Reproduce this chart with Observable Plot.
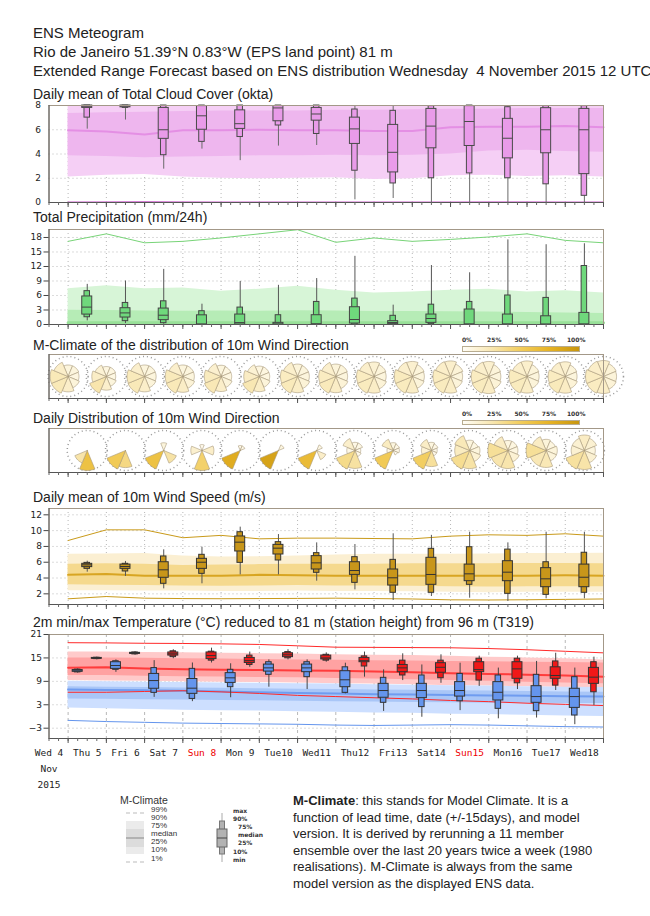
<!DOCTYPE html>
<html><head><meta charset="utf-8">
<script src="https://cdn.jsdelivr.net/npm/d3@7"></script>
<script src="https://cdn.jsdelivr.net/npm/@observablehq/plot@0.6"></script>
<style>
body{margin:0;background:#fff;}
#root{position:relative;width:650px;height:916px;overflow:hidden;font-family:"Liberation Sans",Arial,sans-serif;color:#222;}
.t{position:absolute;white-space:nowrap;}
</style></head><body><div id="root"></div><script>
// ---------- DATA ----------
const dayLabels = ["Wed 4","Thu 5","Fri 6","Sat 7","Sun 8","Mon 9","Tue10","Wed11","Thu12","Fri13","Sat14","Sun15","Mon16","Tue17","Wed18"];
const sundays = ["Sun 8","Sun15"];
const monthLabel = "Nov";
const yearLabel = "2015";

// Total cloud cover (okta), ENS quantiles Thu5..Wed18
const cloudMin = [6.05,6.8,2.75,4.4,3.45,4.65,4.7,0.22,0.33,0,0,0,0,0];
const cloudP10 = [7.0,7.8,3.9,5.0,5.4,6.35,5.65,2.62,1.57,2.0,2.4,2.0,1.5,0.55];
const cloudP25 = [7.8,7.85,5.25,6.0,6.07,6.7,6.75,4.83,2.48,4.47,4.66,3.64,4.06,2.34];
const cloudMed = [7.9,7.95,6.0,7.15,6.5,7.8,7.3,6.07,4.14,6.3,6.68,5.3,6.0,6.0];
const cloudP75 = [8.0,8.0,7.8,7.95,7.6,7.95,7.8,7.0,6.4,7.72,7.95,6.9,7.78,7.72];
const cloudP90 = [8,8,8,8,8,8,8,7.67,7.56,7.95,8,7.86,7.95,7.95];
const cloudMax = [8,8,8,8,8,8,8,7.95,8,8,8,8,8,8];
// cloud M-climate
const cloudC1  = [0.05,0.06,0.08,0.06,0.05,0.05,0.05,0.05,0.05,0.05,0.05,0.06,0.06,0.05,0.05];
const cloudC10 = [2.1,2.25,2.3,2.1,2.0,1.95,2.0,2.05,1.9,1.95,2.2,2.25,2.15,2.2,2.1];
const cloudC25 = [3.85,3.8,3.7,3.75,3.8,3.85,3.85,3.9,3.85,3.9,4.0,4.25,4.3,4.2,4.15];
const cloudC50 = [5.95,5.85,5.6,5.95,5.95,6.0,5.95,5.95,5.9,5.9,6.2,6.25,6.25,6.3,6.2];
const cloudC75 = [7.35,7.4,7.45,7.5,7.55,7.55,7.55,7.6,7.6,7.65,7.7,7.7,7.75,7.75,7.75];
const cloudC90 = [7.95,7.95,7.95,7.95,7.95,7.95,7.95,7.95,7.95,7.95,7.95,7.95,7.95,7.95,7.95];

// Total precipitation (mm/24h)
const precMin = [0.75,0.2,0.05,0,0,0,0,0,0,0,0,0,0,0];
const precP10 = [1.5,0.69,0.27,0,0,0,0,0,0,0.07,0,0,0,0];
const precP25 = [2.05,1.44,0.9,0,0,0,0,0.2,0.07,0.34,0,0,0,0];
const precMed = [3.6,2.4,1.92,0.05,0.4,0.07,0.13,1.03,0.41,1.24,0.07,0.07,0.03,0.07];
const precP75 = [5.8,3.37,3.3,1.9,2.06,0.34,1.92,3.57,0.69,2.06,3.1,2.06,1.7,2.4];
const precP90 = [6.9,4.46,4.8,2.75,3.5,1.92,4.67,5.36,1.8,4.1,4.67,6.0,5.5,12.1];
const precMax = [8.3,9.0,11.4,4.2,8.9,8.1,9.5,14.1,4.0,12.2,10.7,17.5,16.5,16.7];
const precC10 = [0,0,0,0,0,0,0,0,0,0,0,0,0,0,0];
const precC25 = [0,0,0,0,0,0,0,0,0,0,0,0,0,0,0];
const precC50 = [0.35,0.35,0.35,0.35,0.35,0.35,0.35,0.35,0.35,0.35,0.35,0.35,0.35,0.35,0.35];
const precC75 = [2.95,2.9,2.8,2.75,2.8,2.75,2.85,2.8,2.7,2.7,2.65,2.6,2.5,2.4,2.3];
const precC90 = [7.4,8.0,7.4,7.55,6.9,7.3,7.9,7.1,6.5,6.7,7.1,7.3,6.7,7.0,6.5];
const precC99 = [17.2,18.75,16.9,17.2,17.9,18.75,19.6,17.0,17.9,17.2,17.6,18.1,18.75,17.4,16.9];

// 10m wind speed (m/s)
const windMin = [4.74,4.2,2.63,3.27,4.4,4.4,3.6,2.5,1.16,1.66,1.45,1.03,1.37,1.37];
const windP10 = [5.16,4.83,3.27,4.53,5.92,6.22,4.66,3.39,2.13,2.13,3.14,2.0,1.87,2.13];
const windP25 = [5.38,5.16,4.03,5.16,7.36,6.98,5.08,4.4,3.05,3.14,3.6,3.6,2.84,2.84];
const windMed = [5.67,5.46,5.04,6.0,8.54,7.78,5.92,4.95,4.03,4.45,4.53,4.74,3.9,4.1];
const windP75 = [5.8,5.7,6.0,6.43,9.26,8.2,6.77,6.0,5.08,6.56,5.7,6.13,5.25,5.7];
const windP90 = [5.92,5.8,6.73,6.94,9.8,8.54,7.15,6.64,6.3,7.7,7.9,7.6,6.0,7.2];
const windMax = [6.13,6.1,7.57,7.9,10.44,9.5,8.45,8.24,9.6,9.4,9.8,8.45,9.8,9.8];
const windC1  = [1.37,1.66,1.45,1.4,1.38,1.4,1.42,1.45,1.4,1.35,1.24,1.22,1.25,1.3,1.35];
const windC10 = [2.4,2.4,2.35,2.35,2.3,2.3,2.35,2.3,2.3,2.25,2.2,2.15,2.2,2.2,2.2];
const windC25 = [3.15,3.1,3.05,3.0,2.95,3.0,3.05,3.0,3.0,2.95,2.9,2.85,2.9,2.9,2.9];
const windC50 = [4.4,4.5,4.3,4.3,4.3,4.4,4.35,4.3,4.3,4.3,4.3,4.3,4.3,4.35,4.3];
const windC75 = [5.75,5.8,5.75,5.6,5.65,5.7,5.75,5.75,5.75,5.8,5.8,5.8,5.85,5.85,5.8];
const windC90 = [7.0,7.05,7.1,6.8,6.65,6.7,6.8,6.9,7.0,7.0,7.0,7.05,7.1,7.1,7.15];
const windC99 = [8.75,10.1,10.1,9.1,9.4,8.96,9.05,9.05,9.0,8.96,9.3,9.47,9.4,9.6,9.3];

// 2m min temperature (°C), Wed4..Tue17 nights
const tminMin = [11.1,11.3,4.9,3.8,4.8,7.5,6.9,5.8,1.3,-0.2,1.5,-0.6,-0.4,-2.1];
const tminP10 = [11.3,11.95,6.05,4.5,7.5,10.67,10.07,6.05,3.5,2.4,3.9,1.96,1.36,0.25];
const tminP25 = [11.45,12.2,7.1,5.8,8.6,11.5,11.35,7.5,4.8,4.7,5.1,4.1,3.5,2.2];
const tminMed = [11.7,13.05,9.2,7.25,9.9,12.45,12.45,9.4,6.65,6.65,6.65,6.2,5.1,5.1];
const tminP75 = [11.9,13.9,10.9,9.6,11.1,13.3,13.3,11.6,8.36,8.36,8.8,8.8,7.76,7.1];
const tminP90 = [12.0,14.15,12.4,12.2,11.95,13.9,13.9,12.6,9.9,10.5,10.9,10.5,10.67,10.07];
const tminMax = [12.2,14.5,14.3,13.7,13.5,14.5,14.5,13.65,11.95,13.2,13.65,12.4,14.1,12.4];
// 2m max temperature (°C), Thu5..Wed18 days
const tmaxMin = [14.5,15.7,14.8,13.7,12.6,14.5,13.9,10.07,9.2,8.5,7.7,6.9,6.65,2.8];
const tmaxP10 = [14.7,15.9,15.2,14.3,13.2,14.9,14.3,12.8,10.5,9.8,9.2,8.5,7.9,6.2];
const tmaxP25 = [14.8,16.05,15.6,14.7,13.7,15.2,14.6,13.9,11.35,11.2,11.35,9.65,9.65,8.36];
const tmaxMed = [14.9,16.2,16.05,15.6,14.3,15.8,15.0,14.3,12.45,12.6,12.0,12.2,10.5,10.07];
const tmaxP75 = [15.0,16.3,16.4,16.4,15.0,16.2,15.6,15.0,13.2,13.65,13.9,13.9,12.6,12.45];
const tmaxP90 = [15.05,16.4,16.7,16.6,15.6,16.5,15.8,15.4,14.3,14.3,14.8,14.8,14.1,13.9];
const tmaxMax = [15.2,16.6,17.1,17.5,16.5,17.1,16.3,16.5,16.05,15.8,15.45,15.45,16.2,15.2];
// max-temperature M-climate (red)
const txC1  = [6.2,6.2,6.4,6.6,6.3,5.9,5.4,5.1,4.8,4.5,4.1,3.8,3.4,3.1,2.8];
const txC10 = [9.2,9.1,9.0,8.9,8.8,8.7,8.6,8.4,8.3,8.1,7.9,7.8,7.6,7.4,7.3];
const txC25 = [10.5,10.5,10.3,10.2,10.1,10.0,9.9,9.7,9.6,9.4,9.2,9.0,8.8,8.6,8.4];
const txC50 = [12.5,12.6,12.3,12.1,12.0,11.9,11.8,11.7,11.5,11.3,11.1,10.9,10.7,10.5,10.2];
const txC75 = [15.0,15.0,14.9,14.8,14.7,14.6,14.5,14.4,14.3,14.2,14.1,14.0,13.9,13.8,13.7];
const txC90 = [16.5,16.5,16.4,16.3,16.2,16.1,16.0,15.8,15.7,15.6,15.4,15.2,15.0,14.8,14.5];
const txC99 = [18.9,18.85,18.75,18.7,18.6,18.45,18.1,17.75,17.7,17.65,17.6,17.4,17.1,16.7,16.3];
// min-temperature M-climate (blue)
const tnC1  = [-1.0,-1.3,-1.5,-1.7,-1.8,-1.9,-2.0,-2.2,-2.3,-2.2,-2.1,-2.2,-2.4,-2.6,-2.7];
const tnC10 = [2.2,2.0,1.8,1.6,1.5,1.4,1.2,1.1,0.9,0.8,0.6,0.5,0.3,0.1,0.0];
const tnC25 = [4.5,4.4,4.3,4.2,4.1,4.0,3.9,3.8,3.7,3.6,3.5,3.4,3.4,3.3,3.3];
const tnC50 = [6.9,6.8,6.7,6.6,6.4,6.2,6.0,5.9,5.7,5.6,5.5,5.4,5.3,5.2,5.1];
const tnC75 = [7.6,7.5,7.4,7.3,7.2,7.1,7.0,6.9,6.8,6.7,6.6,6.5,6.4,6.3,6.2];
const tnC90 = [9.0,8.9,8.8,8.7,8.6,8.5,8.4,8.3,8.1,8.0,7.9,7.8,7.6,7.5,7.4];

// 10m wind direction, probability (%) per sector N,NE,E,SE,S,SW,W,NW
const sectorDirs = [0,45,90,135,180,225,270,315];
const mclimRoses = [
  [9,9,8,10,16,22,22,16],[8,8,7,9,15,26,17,12],[9,9,9,10,16,22,21,15],[9,9,9,11,17,22,21,15],
  [9,8,8,10,16,23,20,14],[8,8,8,10,17,24,18,12],[10,9,9,11,17,21,19,15],[10,10,9,11,17,21,19,15],
  [13,10,9,11,17,20,19,15],[14,10,9,10,17,20,20,15],[15,11,9,10,17,20,19,16],[14,10,9,11,18,20,19,15],
  [15,10,9,10,17,20,20,15],[14,10,9,11,18,21,19,15],[15,11,10,11,17,19,19,16]
];
const dailyRoses = [
  [0,0,0,0,60,27,0,0],[0,0,0,0,38,52,0,0],[9,0,0,28,0,60,0,0],[4,0,16,0,45,0,14,0],
  [5,5,0,0,0,80,0,0],[0,8,0,0,0,88,0,0],[0,6,0,16,0,66,0,0],[6,6,3,4,29,36,6,15],
  [8,6,5,3,0,52,5,19],[8,6,4,4,31,48,12,17],[9,7,9,12,28,34,19,22],[8,8,8,12,26,26,32,18],
  [10,8,10,10,23,23,32,18],[18,13,9,13,27,30,13,13]
];
const roseDomain = [0,25,50,75,100];
const roseRange = ["#fffdf6","#f8e6b0","#f2cc5a","#e6b224","#c8960e"];

// ---------- LAYOUT HELPERS ----------
const root = document.getElementById("root");
const W = 650, ML = 48.5, MR = 47;
const pxPerDay = (W - ML - MR) / 14.5;
const fcDays = d3.range(1, 15);
const climX = d3.range(0.5, 14.51, 1);
const tminX = d3.range(0.75, 13.76, 1);
const tmaxX = d3.range(1.25, 14.26, 1);
const minorTicks = d3.range(0, 14.51, 0.25);
const majorTicks = climX;

function text(str, x, yc, size, extra = "") {
  const d = document.createElement("div");
  d.className = "t";
  d.style.cssText = `left:${x}px;top:${yc - size / 2}px;line-height:${size}px;font-size:${size}px;${extra}`;
  d.innerHTML = str;
  root.appendChild(d);
}

const boxRows = (xs, q) => xs.map((x, i) => ({x, min: q[0][i], p10: q[1][i], p25: q[2][i], med: q[3][i], p75: q[4][i], p90: q[5][i], max: q[6][i]}));
const climRows = (q) => climX.map((x, i) => {
  const r = {x};
  for (const k in q) r[k] = q[k][i];
  return r;
});

function boxMarks(rows, fill, stroke = "#444", whisker = "#666") {
  const hw = 5 / pxPerDay, hn = 2.75 / pxPerDay;
  return [
    Plot.ruleX(rows, {x: "x", y1: "min", y2: "max", stroke: whisker, strokeWidth: 1}),
    Plot.rect(rows, {x1: d => d.x - hn, x2: d => d.x + hn, y1: "p10", y2: "p90", fill, stroke, strokeWidth: 1}),
    Plot.rect(rows, {x1: d => d.x - hw, x2: d => d.x + hw, y1: "p25", y2: "p75", fill, stroke, strokeWidth: 1}),
    Plot.ruleY(rows, {y: "med", x1: d => d.x - hw, x2: d => d.x + hw, stroke, strokeWidth: 1})
  ];
}

function climMarks(rows, c) {
  return [
    Plot.areaY(rows, {x: "x", y1: "p10", y2: "p90", fill: c.b90}),
    Plot.areaY(rows, {x: "x", y1: "p25", y2: "p75", fill: c.b75}),
    Plot.lineY(rows, {x: "x", y: "p50", stroke: c.med, strokeWidth: c.medW || 2}),
    rows[0].p1 !== undefined ? Plot.lineY(rows, {x: "x", y: "p1", stroke: c.ext, strokeWidth: 1}) : null,
    rows[0].p99 !== undefined ? Plot.lineY(rows, {x: "x", y: "p99", stroke: c.ext, strokeWidth: 1}) : null
  ];
}

function panel({top, h, yDomain, yTicks, marks, mt = 6, mb = 8, tickSize = 5, tickPadding = 2, vgrid = "1,3", color}) {
  const opts = {
    width: W, height: h + mt + mb,
    marginLeft: ML, marginRight: MR, marginTop: mt, marginBottom: mb,
    x: {domain: [0, 14.5], axis: null, label: null},
    y: {domain: yDomain, axis: null, label: null},
    style: {fontFamily: "DejaVu Sans", fontSize: "9px", background: "none", overflow: "visible", color: "#222"},
    marks: [
      vgrid ? Plot.ruleX(majorTicks, {stroke: "#b8b8b8", strokeDasharray: vgrid}) : null,
      yTicks ? Plot.ruleY(yTicks, {stroke: "#b8b8b8", strokeDasharray: "1,3"}) : null,
      ...marks,
      Plot.frame({stroke: "#a39888"}),
      Plot.ruleX([0], {stroke: "#555"}),
      Plot.ruleY([yDomain[0]], {stroke: "#555"}),
      Plot.axisX({ticks: minorTicks, tickSize: 3, tickFormat: () => "", stroke: "#666", label: null}),
      Plot.axisX({ticks: majorTicks, tickSize: 5, tickFormat: () => "", stroke: "#555", label: null}),
      yTicks ? Plot.axisY({ticks: yTicks, tickSize, tickPadding, fontSize: 9, stroke: "#444", label: null}) : null
    ]
  };
  if (color) opts.color = color;
  const svg = Plot.plot(opts);
  svg.style.position = "absolute";
  svg.style.left = "0px";
  svg.style.top = (top - mt) + "px";
  root.appendChild(svg);
}

function roseRows(roses, centers, R) {
  const rows = [];
  roses.forEach((ps, k) => {
    const pmax = d3.max(ps);
    ps.forEach((p, s) => {
      if (!p) return;
      const r = R * Math.sqrt(p / pmax);
      const id = k * 8 + s;
      const a0 = (sectorDirs[s] - 22.5) * Math.PI / 180, a1 = (sectorDirs[s] + 22.5) * Math.PI / 180;
      rows.push({id, p, x: centers[k], y: 0});
      for (let j = 0; j <= 8; j++) {
        const a = a0 + (a1 - a0) * j / 8;
        rows.push({id, p, x: centers[k] + r * Math.sin(a) / pxPerDay, y: r * Math.cos(a)});
      }
      rows.push({id, p, x: centers[k], y: 0});
    });
  });
  return rows;
}

// ---------- PANELS ----------
// Cloud cover
panel({
  top: 105, h: 97, yDomain: [0, 8], yTicks: [0, 2, 4, 6, 8], tickSize: 0, tickPadding: 8,
  marks: [
    ...climMarks(climRows({p1: cloudC1, p10: cloudC10, p25: cloudC25, p50: cloudC50, p75: cloudC75, p90: cloudC90}),
      {b90: "#f5cff5", b75: "#eeb6ee", med: "#e48fe4", ext: "#d47ad4"}),
    ...boxMarks(boxRows(fcDays, [cloudMin, cloudP10, cloudP25, cloudMed, cloudP75, cloudP90, cloudMax]), "#e99be9", "#4a4a4a", "#6a6a6a")
  ]
});

// Precipitation
panel({
  top: 229, h: 95, yDomain: [0, 19.65], yTicks: [0, 3, 6, 9, 12, 15, 18],
  marks: [
    ...climMarks(climRows({p10: precC10, p25: precC25, p50: precC50, p75: precC75, p90: precC90, p99: precC99}),
      {b90: "#d7f5d7", b75: "#b6ecb6", med: "#98e098", medW: 3, ext: "#78d478"}),
    ...boxMarks(boxRows(fcDays, [precMin, precP10, precP25, precMed, precP75, precP90, precMax]), "#6fd87c", "#444", "#555")
  ]
});

// Wind direction roses
const roseColor = {type: "linear", domain: roseDomain, range: roseRange};
const mcCenters = climX;
panel({
  top: 354, h: 44, yDomain: [-22, 22], yTicks: null, vgrid: null, color: roseColor,
  marks: [
    Plot.dot(mcCenters, {x: d => d, y: 0, r: 20, stroke: "#9a9a9a", strokeDasharray: "1,3", fill: "none"}),
    Plot.line(roseRows(mclimRoses, mcCenters, 18), {x: "x", y: "y", z: "id", fill: "p", stroke: "#a8987a", strokeWidth: 0.6, curve: "linear"})
  ]
});
panel({
  top: 428, h: 44, yDomain: [-22, 22], yTicks: null, vgrid: null, color: roseColor,
  marks: [
    Plot.dot(fcDays, {x: d => d, y: 0, r: 20, stroke: "#9a9a9a", strokeDasharray: "1,3", fill: "none"}),
    Plot.line(roseRows(dailyRoses, fcDays, 20), {x: "x", y: "y", z: "id", fill: "p", stroke: "#a8987a", strokeWidth: 0.6, curve: "linear"})
  ]
});

// Wind speed
panel({
  top: 508, h: 96, yDomain: [0.65, 12.8], yTicks: [2, 4, 6, 8, 10, 12],
  marks: [
    ...climMarks(climRows({p1: windC1, p10: windC10, p25: windC25, p50: windC50, p75: windC75, p90: windC90, p99: windC99}),
      {b90: "#fbefd2", b75: "#f5d98e", med: "#d8a522", ext: "#c99a1a"}),
    ...boxMarks(boxRows(fcDays, [windMin, windP10, windP25, windMed, windP75, windP90, windMax]), "#c8961a", "#333", "#555")
  ]
});

// Temperature
const dayRows = dayLabels.map((label, i) => ({i, label}));
const dateFont = {fontFamily: "DejaVu Sans Mono", fontSize: 9.5};
panel({
  top: 634, h: 104, mb: 60, yDomain: [-5.64, 21], yTicks: [-3, 3, 9, 15, 21], vgrid: "3,3",
  marks: [
    ...climMarks(climRows({p1: txC1, p10: txC10, p25: txC25, p50: txC50, p75: txC75, p90: txC90, p99: txC99}),
      {b90: "#ffcaca", b75: "#ffa2a2", med: "#ff3c3c", ext: "#ff2a2a"}).slice(0, 2),
    ...climMarks(climRows({p1: tnC1, p10: tnC10, p25: tnC25, p50: tnC50, p75: tnC75, p90: tnC90}),
      {b90: "#cddfff", b75: "#a9c6f7", med: "#6f9cf0", ext: "#6495ed"}),
    Plot.lineY(climRows({p50: txC50}), {x: "x", y: "p50", stroke: "#ff3c3c", strokeWidth: 2}),
    Plot.lineY(climRows({p1: txC1}), {x: "x", y: "p1", stroke: "#ff2a2a", strokeWidth: 1}),
    Plot.lineY(climRows({p99: txC99}), {x: "x", y: "p99", stroke: "#ff2a2a", strokeWidth: 1}),
    ...boxMarks(boxRows(tminX, [tminMin, tminP10, tminP25, tminMed, tminP75, tminP90, tminMax]), "#6495ed", "#333", "#444"),
    ...boxMarks(boxRows(tmaxX, [tmaxMin, tmaxP10, tmaxP25, tmaxMed, tmaxP75, tmaxP90, tmaxMax]), "#f01818", "#333", "#444"),
    Plot.text(dayRows.filter(d => !sundays.includes(d.label)), {x: "i", text: "label", frameAnchor: "bottom", dy: 17, fill: "#222", ...dateFont}),
    Plot.text(dayRows.filter(d => sundays.includes(d.label)), {x: "i", text: "label", frameAnchor: "bottom", dy: 17, fill: "#ee0000", ...dateFont}),
    Plot.text([{x: 0, t: monthLabel}], {x: "x", text: "t", frameAnchor: "bottom", dy: 33, fill: "#222", ...dateFont}),
    Plot.text([{x: 0, t: yearLabel}], {x: "x", text: "t", frameAnchor: "bottom", dy: 49, fill: "#222", ...dateFont})
  ]
});

// ---------- TEXT ----------
text("ENS Meteogram", 33, 32, 15);
text("Rio de Janeiro 51.39°N 0.83°W (EPS land point) 81 m", 33, 51, 15);
text("Extended Range Forecast based on ENS distribution Wednesday &nbsp;4 November 2015 12 UTC", 33, 70, 15);
text("Daily mean of Total Cloud Cover (okta)", 33, 93.5, 14);
text("Total Precipitation (mm/24h)", 33, 217, 14);
text("M-Climate of the distribution of 10m Wind Direction", 33, 345, 14);
text("Daily Distribution of 10m Wind Direction", 33, 418, 14);
text("Daily mean of 10m Wind Speed (m/s)", 33, 497, 14);
text("2m min/max Temperature (°C) reduced to 81 m (station height) from 96 m (T319)", 33, 622, 14);

// rose colour legends
function gradLegend(top) {
  const stops = roseDomain.map((d, i) => `${roseRange[i]} ${d}%`).join(",");
  const bar = document.createElement("div");
  bar.style.cssText = `position:absolute;left:462px;top:${top}px;width:116px;height:3.5px;background:linear-gradient(to right,${stops});border:0.5px solid #b8ac90;`;
  root.appendChild(bar);
  ["0%", "25%", "50%", "75%", "100%"].forEach((l, k) => {
    const d = document.createElement("div");
    d.className = "t";
    d.style.cssText = `left:${467 + 27.3 * k - 15}px;width:30px;text-align:center;top:${top - 10}px;line-height:8px;font:bold 6px 'DejaVu Sans';color:#333;`;
    d.textContent = l;
    root.appendChild(d);
  });
}
gradLegend(346);
gradLegend(419.5);

// bottom legends
const lg = document.createElementNS("http://www.w3.org/2000/svg", "svg");
lg.setAttribute("width", "300"); lg.setAttribute("height", "90");
lg.style.cssText = "position:absolute;left:0;top:790px;overflow:visible";
const o = 790;
lg.innerHTML = `
<g font-family="Liberation Sans, Arial" font-size="8" fill="#333">
<text x="120" y="${804 - o}" font-size="10.5">M-Climate</text>
<line x1="126" x2="145" y1="${813 - o}" y2="${813 - o}" stroke="#bbb" stroke-dasharray="4,3"/>
<rect x="126" y="${821 - o}" width="18" height="33" fill="#ebebeb"/>
<rect x="126" y="${829 - o}" width="18" height="18" fill="#dcdcdc"/>
<line x1="126" x2="144" y1="${838 - o}" y2="${838 - o}" stroke="#b2b2b2" stroke-width="2"/>
<line x1="126" x2="145" y1="${862 - o}" y2="${862 - o}" stroke="#bbb" stroke-dasharray="4,3"/>
<text x="151" y="${812 - o}">99%</text>
<text x="151" y="${819.5 - o}">90%</text>
<text x="151" y="${827.5 - o}">75%</text>
<text x="151" y="${835.5 - o}">median</text>
<text x="151" y="${843.5 - o}">25%</text>
<text x="151" y="${851.5 - o}">10%</text>
<text x="151" y="${860.5 - o}">1%</text>
</g>
<g>
<line x1="222" x2="222" y1="${813 - o}" y2="${862 - o}" stroke="#aaa"/>
<rect x="219.5" y="${821 - o}" width="5" height="33" fill="#b2b2b2" stroke="#777"/>
<rect x="217" y="${829 - o}" width="10" height="18" fill="#b2b2b2" stroke="#666"/>
<line x1="217" x2="227" y1="${838 - o}" y2="${838 - o}" stroke="#444"/>
</g>
<g font-family="DejaVu Sans" font-size="6" font-weight="bold" fill="#333">
<text x="233" y="${813 - o}">max</text>
<text x="233" y="${820.5 - o}">90%</text>
<text x="238" y="${829 - o}">75%</text>
<text x="238" y="${836.5 - o}">median</text>
<text x="238" y="${845 - o}">25%</text>
<text x="233" y="${854 - o}">10%</text>
<text x="233" y="${862 - o}">min</text>
</g>`;
root.appendChild(lg);

// paragraph
const para = document.createElement("div");
para.className = "t";
para.style.cssText = "left:293px;top:793px;line-height:16.5px;font-size:13px;white-space:normal;width:340px;";
para.innerHTML = "<b>M-Climate</b>: this stands for Model Climate. It is a<br>function of lead time, date (+/-15days), and model<br>version. It is derived by rerunning a 11 member<br>ensemble over the last 20 years twice a week (1980<br>realisations). M-Climate is always from the same<br>model version as the displayed ENS data.";
root.appendChild(para);
</script></body></html>
